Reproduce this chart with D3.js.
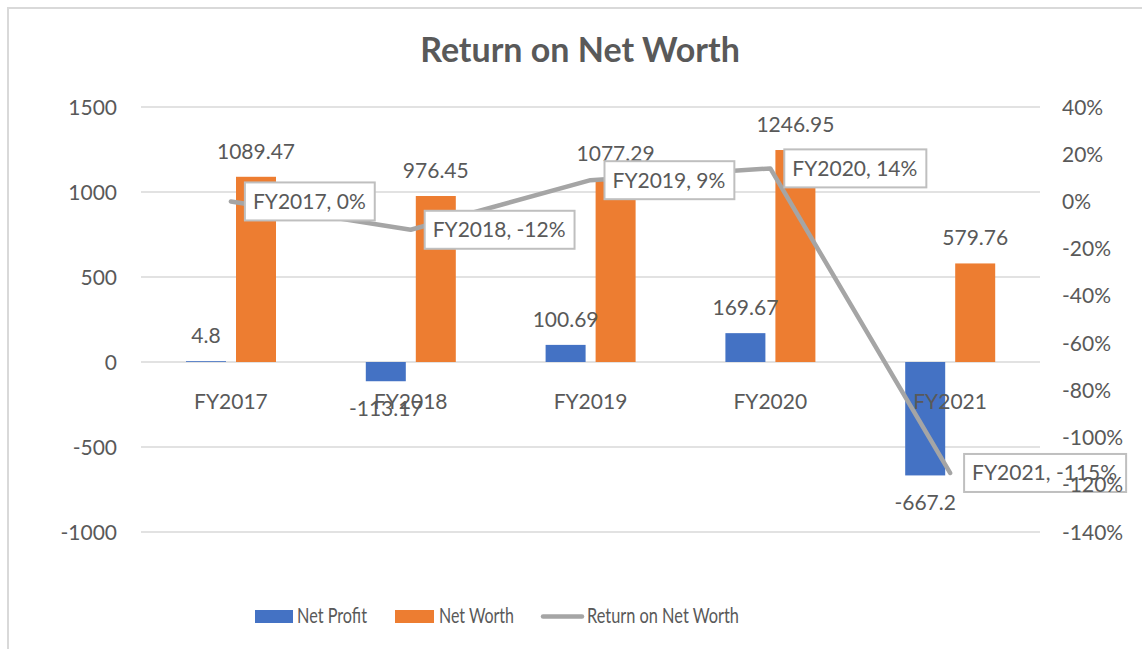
<!DOCTYPE html>
<html>
<head>
<meta charset="utf-8">
<script src="https://cdn.jsdelivr.net/npm/d3@7"></script>
<style>
body { margin: 0; background: #fff; }
svg text { font-family: Lato, "Open Sans", sans-serif; fill: #595959; }
</style>
</head>
<body>
<script>
var categories = ['FY2017', 'FY2018', 'FY2019', 'FY2020', 'FY2021'];
var netProfit = [4.8, -113.17, 100.69, 169.67, -667.2];
var netWorth = [1089.47, 976.45, 1077.29, 1246.95, 579.76];
var returnOnNetWorth = [0, -12, 9, 14, -115]; // percent
var leftTicks = [-1000, -500, 0, 500, 1000, 1500];
var rightTicks = [-140, -120, -100, -80, -60, -40, -20, 0, 20, 40];
var seriesNames = ['Net Profit', 'Net Worth', 'Return on Net Worth'];

var width = 1142, height = 649;
var colors = {np: '#4472C4', nw: '#ED7D31', line: '#A5A5A5', grid: '#D9D9D9'};

var svg = d3.select('body').append('svg').attr('width', width).attr('height', height);

// chart frame (cropped on right/bottom)
svg.append('rect').attr('x', 8).attr('y', 8).attr('width', 1200).attr('height', 700)
	.attr('fill', 'none').attr('stroke', colors.grid).attr('stroke-width', 2);

svg.append('text').attr('x', 580).attr('y', 62).attr('text-anchor', 'middle')
	.style('font-size', '34px').style('font-weight', 'bold').text('Return on Net Worth');

var x = d3.scaleBand().domain(categories).range([141, 1040]);
var xs = d3.scaleBand().domain(['np', 'nw']).range([45, 135]).paddingInner(0.2);
var yL = d3.scaleLinear().domain([-1000, 1500]).range([532, 107]);
var yR = d3.scaleLinear().domain([-140, 40]).range([532, 107]);

// gridlines
svg.append('g').selectAll('line').data(leftTicks).join('line')
	.attr('x1', 141).attr('x2', 1040)
	.attr('y1', function(d) { return yL(d); }).attr('y2', function(d) { return yL(d); })
	.attr('stroke', colors.grid).attr('stroke-width', 1.5);

// bars
var rows = categories.map(function(c, i) { return {cat: c, np: netProfit[i], nw: netWorth[i], r: returnOnNetWorth[i]}; });
['np', 'nw'].forEach(function(k) {
	svg.append('g').selectAll('rect').data(rows).join('rect')
		.attr('x', function(d) { return x(d.cat) + xs(k); })
		.attr('width', xs.bandwidth())
		.attr('y', function(d) { return yL(Math.max(0, d[k])); })
		.attr('height', function(d) { return Math.abs(yL(d[k]) - yL(0)); })
		.attr('fill', colors[k]);
});

// line
var line = d3.line()
	.x(function(d) { return x(d.cat) + x.bandwidth() / 2; })
	.y(function(d) { return yR(d.r); });
svg.append('path').datum(rows).attr('d', line).attr('fill', 'none')
	.attr('stroke', colors.line).attr('stroke-width', 4.5)
	.attr('stroke-linejoin', 'round').attr('stroke-linecap', 'round');

// category labels
svg.append('g').selectAll('text').data(categories).join('text')
	.attr('x', function(d) { return x(d) + x.bandwidth() / 2; })
	.attr('y', yL(0) + 47).attr('text-anchor', 'middle')
	.style('font-size', '21px').text(function(d) { return d; });

// bar value labels
['np', 'nw'].forEach(function(k) {
	svg.append('g').selectAll('text').data(rows).join('text')
		.attr('x', function(d) { return x(d.cat) + xs(k) + xs.bandwidth() / 2; })
		.attr('y', function(d) { return d[k] >= 0 ? yL(d[k]) - 18 : yL(d[k]) + 35; })
		.attr('text-anchor', 'middle').style('font-size', '21px')
		.text(function(d) { return d[k]; });
});

// line labels in boxes
var lab = svg.append('g').selectAll('g').data(rows).join('g')
	.attr('transform', function(d) { return 'translate(' + (x(d.cat) + x.bandwidth() / 2 + 14) + ',' + yR(d.r) + ')'; });
lab.append('rect').attr('fill', '#fff').attr('stroke', '#BFBFBF').attr('stroke-width', 2);
var labText = lab.append('text').attr('x', 8).attr('y', 7.5).style('font-size', '21px')
	.text(function(d) { return d.cat + ', ' + d.r + '%'; });
labText.each(function() {
	var w = this.getComputedTextLength();
	d3.select(this.parentNode).select('rect').attr('x', 0).attr('y', -19).attr('width', w + 17).attr('height', 38);
});

// left axis labels
svg.append('g').selectAll('text').data(leftTicks).join('text')
	.attr('x', 117).attr('y', function(d) { return yL(d) + 7.5; })
	.attr('text-anchor', 'end').style('font-size', '21px').text(function(d) { return d; });

// right axis labels
svg.append('g').selectAll('text').data(rightTicks).join('text')
	.attr('x', 1062).attr('y', function(d) { return yR(d) + 7.5; })
	.style('font-size', '21px').text(function(d) { return d + '%'; });

// legend
var legend = svg.append('g');
legend.append('rect').attr('x', 255).attr('y', 610).attr('width', 38).attr('height', 13).attr('fill', colors.np);
legend.append('rect').attr('x', 395).attr('y', 610).attr('width', 39).attr('height', 13).attr('fill', colors.nw);
legend.append('line').attr('x1', 543).attr('x2', 582).attr('y1', 616.5).attr('y2', 616.5)
	.attr('stroke', colors.line).attr('stroke-width', 4.5).attr('stroke-linecap', 'round');
var legX = [297, 439, 587], legW = [70, 75, 152];
seriesNames.forEach(function(n, i) {
	legend.append('text').attr('x', legX[i]).attr('y', 623).style('font-size', '22px')
		.attr('textLength', legW[i]).attr('lengthAdjust', 'spacingAndGlyphs').text(n);
});
</script>
</body>
</html>
